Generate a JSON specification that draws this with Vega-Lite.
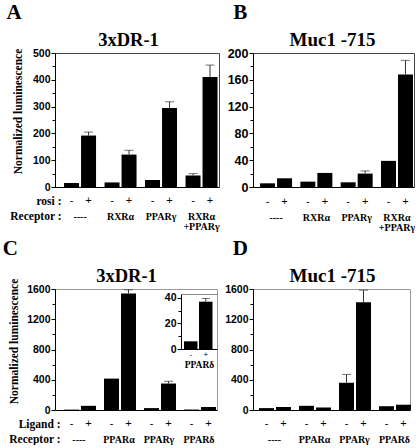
{
  "$schema": "https://vega.github.io/schema/vega-lite/v6.json",
  "padding": {"left": 2, "top": 1, "right": 0, "bottom": 0},
  "datasets": {
    "A": [
      {"group": "----", "sign": "-", "value": 15},
      {"group": "----", "sign": "+", "value": 192, "hi": 205},
      {"group": "RXRα", "sign": "-", "value": 17},
      {"group": "RXRα", "sign": "+", "value": 121, "hi": 137},
      {"group": "PPARγ", "sign": "-", "value": 26},
      {"group": "PPARγ", "sign": "+", "value": 295, "hi": 318},
      {"group": "RXRα +PPARγ", "sign": "-", "value": 43, "hi": 50},
      {"group": "RXRα +PPARγ", "sign": "+", "value": 410, "hi": 455}
    ],
    "B": [
      {"group": "----", "sign": "-", "value": 5.5},
      {"group": "----", "sign": "+", "value": 13},
      {"group": "RXRα", "sign": "-", "value": 8},
      {"group": "RXRα", "sign": "+", "value": 21},
      {"group": "PPARγ", "sign": "-", "value": 7},
      {"group": "PPARγ", "sign": "+", "value": 20, "hi": 24},
      {"group": "RXRα +PPARγ", "sign": "-", "value": 39},
      {"group": "RXRα +PPARγ", "sign": "+", "value": 168, "hi": 189}
    ],
    "C": [
      {"group": "----", "sign": "-", "value": 5},
      {"group": "----", "sign": "+", "value": 55},
      {"group": "PPARα", "sign": "-", "value": 415},
      {"group": "PPARα", "sign": "+", "value": 1540, "hi": 1590},
      {"group": "PPARγ", "sign": "-", "value": 25},
      {"group": "PPARγ", "sign": "+", "value": 350, "hi": 380},
      {"group": "PPARδ", "sign": "-", "value": 6},
      {"group": "PPARδ", "sign": "+", "value": 40}
    ],
    "D": [
      {"group": "----", "sign": "-", "value": 25},
      {"group": "----", "sign": "+", "value": 40},
      {"group": "PPARα", "sign": "-", "value": 55},
      {"group": "PPARα", "sign": "+", "value": 32},
      {"group": "PPARγ", "sign": "-", "value": 360, "hi": 470},
      {"group": "PPARγ", "sign": "+", "value": 1425, "hi": 1585},
      {"group": "PPARδ", "sign": "-", "value": 50},
      {"group": "PPARδ", "sign": "+", "value": 70}
    ],
    "inset": [
      {"group": "PPARδ", "sign": "-", "value": 6},
      {"group": "PPARδ", "sign": "+", "value": 37, "hi": 39.5}
    ]
  },
  "spacing": 5,
  "vconcat": [
    {
      "spacing": 6,
      "hconcat": [
        {
          "spacing": 0,
          "vconcat": [
            {
              "width": 164, "height": 134,
              "title": {"text": "A", "anchor": "start", "fontSize": 21, "offset": -10, "baseline": "alphabetic", "dx": -6},
              "view": {"stroke": "#444"},
              "data": {"name": "A"},
              "layer": [
                {
                  "mark": {"type": "bar", "color": "black"},
                  "encoding": {
                    "x": {"field": "group", "type": "nominal", "scale": {"domain": ["----", "RXRα", "PPARγ", "RXRα +PPARγ"], "paddingInner": 0.21, "paddingOuter": 0.13, "align": 0.86}, "axis": {"orient": "bottom", "labels": false, "ticks": false, "title": null, "maxExtent": 0, "minExtent": 0}},
                    "xOffset": {"field": "sign", "type": "nominal", "scale": {"domain": ["-", "+"], "paddingInner": 0.118, "paddingOuter": 0}},
                    "y": {"field": "value", "type": "quantitative", "scale": {"domain": [0, 500], "nice": false}, "axis": {"orient": "left", "values": [0, 100, 200, 300, 400, 500], "format": "d", "tickSize": 4, "labelPadding": 1, "labelFontSize": 10.5, "title": "Normalized luminescence", "titleFont": "Liberation Serif", "titleFontSize": 11.5, "titleFontWeight": "bold", "titleY": 58, "titlePadding": 9}}
                  }
                },
                {
                  "transform": [{"filter": "isValid(datum.hi)"}],
                  "mark": {"type": "rule", "color": "#333"},
                  "encoding": {
                    "x": {"field": "group", "type": "nominal", "axis": null},
                    "xOffset": {"field": "sign", "type": "nominal"},
                    "y": {"field": "value", "type": "quantitative", "axis": null},
                    "y2": {"field": "hi"}
                  }
                },
                {
                  "transform": [{"filter": "isValid(datum.hi)"}],
                  "mark": {"type": "tick", "color": "#333", "thickness": 1, "size": 9},
                  "encoding": {
                    "x": {"field": "group", "type": "nominal", "axis": {"orient": "top", "domain": false, "labels": false, "ticks": false, "maxExtent": 0, "minExtent": 0, "title": "3xDR-1", "titleX": 73, "titleY": -8, "titleAngle": 0, "titleAlign": "center", "titleBaseline": "alphabetic", "titleFont": "Liberation Serif", "titleFontSize": 18.5, "titleFontWeight": "bold"}},
                    "xOffset": {"field": "sign", "type": "nominal"},
                    "y": {"field": "hi", "type": "quantitative", "axis": {"orient": "left", "values": [50, 150, 250, 350, 450], "labels": false, "domain": false, "tickSize": 3, "title": null}}
                  }
                }
              ],
              "resolve": {"axis": {"x": "independent", "y": "independent"}}
            },
            {
              "width": 164, "height": 16,
              "data": {"name": "A"},
              "mark": {"type": "text", "font": "Liberation Sans", "fontSize": 11, "color": "black"},
              "encoding": {
                "x": {"field": "group", "type": "nominal", "scale": {"domain": ["----", "RXRα", "PPARγ", "RXRα +PPARγ"], "paddingInner": 0.21, "paddingOuter": 0.13, "align": 0.86}, "axis": {"domain": false, "ticks": false, "tickSize": 0, "labelAngle": 0, "labelPadding": 2, "labelFont": "Liberation Serif", "labelFontSize": 10, "labelLineHeight": 10, "labelBaseline": "top", "labelExpr": "split(datum.value, ' ')", "title": "Receptor :", "titleFont": "Liberation Serif", "titleFontSize": 11.5, "titleFontWeight": "bold", "titleAngle": 0, "titleAlign": "right", "titleBaseline": "middle", "titleX": 6, "titleY": 7}},
                "xOffset": {"field": "sign", "type": "nominal", "scale": {"domain": ["-", "+"], "paddingInner": 0.118, "paddingOuter": 0}},
                "y": {"datum": "rosi :", "type": "nominal", "axis": {"title": null, "domain": false, "ticks": false, "tickSize": 0, "labelPadding": -6, "labelFont": "Liberation Serif", "labelFontSize": 11.5, "labelFontWeight": "bold"}},
                "text": {"field": "sign"}
              }
            }
          ]
        },
        {
          "spacing": 0,
          "vconcat": [
            {
              "width": 161, "height": 134,
              "title": {"text": "B", "anchor": "start", "fontSize": 21, "offset": -10, "baseline": "alphabetic", "dx": 6},
              "view": {"stroke": "#444"},
              "data": {"name": "B"},
              "layer": [
                {
                  "mark": {"type": "bar", "color": "black"},
                  "encoding": {
                    "x": {"field": "group", "type": "nominal", "scale": {"domain": ["----", "RXRα", "PPARγ", "RXRα +PPARγ"], "paddingInner": 0.206, "paddingOuter": 0.1, "align": 0.875}, "axis": {"orient": "bottom", "labels": false, "ticks": false, "title": null, "maxExtent": 0, "minExtent": 0}},
                    "xOffset": {"field": "sign", "type": "nominal", "scale": {"domain": ["-", "+"], "paddingInner": 0.118, "paddingOuter": 0}},
                    "y": {"field": "value", "type": "quantitative", "scale": {"domain": [0, 200], "nice": false}, "axis": {"orient": "left", "values": [0, 40, 80, 120, 160, 200], "format": "d", "tickSize": 4, "labelPadding": 1, "labelFontSize": 12.5, "title": null}}
                  }
                },
                {
                  "transform": [{"filter": "isValid(datum.hi)"}],
                  "mark": {"type": "rule", "color": "#333"},
                  "encoding": {
                    "x": {"field": "group", "type": "nominal", "axis": null},
                    "xOffset": {"field": "sign", "type": "nominal"},
                    "y": {"field": "value", "type": "quantitative", "axis": null},
                    "y2": {"field": "hi"}
                  }
                },
                {
                  "transform": [{"filter": "isValid(datum.hi)"}],
                  "mark": {"type": "tick", "color": "#333", "thickness": 1, "size": 9},
                  "encoding": {
                    "x": {"field": "group", "type": "nominal", "axis": {"orient": "top", "domain": false, "labels": false, "ticks": false, "maxExtent": 0, "minExtent": 0, "title": "Muc1 -715", "titleX": 79, "titleY": -8, "titleAngle": 0, "titleAlign": "center", "titleBaseline": "alphabetic", "titleFont": "Liberation Serif", "titleFontSize": 19, "titleFontWeight": "bold"}},
                    "xOffset": {"field": "sign", "type": "nominal"},
                    "y": {"field": "hi", "type": "quantitative", "axis": {"orient": "left", "values": [20, 60, 100, 140, 180], "labels": false, "domain": false, "tickSize": 3, "title": null}}
                  }
                }
              ],
              "resolve": {"axis": {"x": "independent", "y": "independent"}}
            },
            {
              "width": 161, "height": 16,
              "data": {"name": "B"},
              "mark": {"type": "text", "font": "Liberation Sans", "fontSize": 11, "color": "black"},
              "encoding": {
                "x": {"field": "group", "type": "nominal", "scale": {"domain": ["----", "RXRα", "PPARγ", "RXRα +PPARγ"], "paddingInner": 0.206, "paddingOuter": 0.1, "align": 0.875}, "axis": {"domain": false, "ticks": false, "tickSize": 0, "labelAngle": 0, "labelPadding": 2, "labelFont": "Liberation Serif", "labelFontSize": 10, "labelLineHeight": 10, "labelBaseline": "top", "labelExpr": "split(datum.value, ' ')", "title": null}},
                "xOffset": {"field": "sign", "type": "nominal", "scale": {"domain": ["-", "+"], "paddingInner": 0.118, "paddingOuter": 0}},
                "text": {"field": "sign"}
              }
            }
          ]
        }
      ]
    },
    {
      "spacing": 6,
      "hconcat": [
        {
          "spacing": 0,
          "vconcat": [
            {
              "width": 162, "height": 121,
              "title": {"text": "C", "anchor": "start", "fontSize": 21, "offset": -10, "baseline": "alphabetic", "dx": -6},
              "view": {"stroke": "#999"},
              "layer": [
                {
                  "data": {"name": "C"},
                  "layer": [
                    {
                      "mark": {"type": "bar", "color": "black"},
                      "encoding": {
                        "x": {"field": "group", "type": "nominal", "scale": {"domain": ["----", "PPARα", "PPARγ", "PPARδ"], "paddingInner": 0.25, "paddingOuter": 0.15, "align": 0.75}, "axis": {"orient": "bottom", "labels": false, "ticks": false, "title": null, "maxExtent": 0, "minExtent": 0}},
                        "xOffset": {"field": "sign", "type": "nominal", "scale": {"domain": ["-", "+"], "paddingInner": 0.065, "paddingOuter": 0}},
                        "y": {"field": "value", "type": "quantitative", "scale": {"domain": [0, 1600], "nice": false}, "axis": {"orient": "left", "values": [0, 400, 800, 1200, 1600], "format": "d", "tickSize": 4, "labelPadding": 1, "labelFontSize": 10.5, "title": "Normalized luminescence", "titleFont": "Liberation Serif", "titleFontSize": 11.5, "titleFontWeight": "bold", "titleY": 52, "titlePadding": 7}}
                      }
                    },
                    {
                      "transform": [{"filter": "isValid(datum.hi)"}],
                      "mark": {"type": "rule", "color": "#333"},
                      "encoding": {
                        "x": {"field": "group", "type": "nominal", "axis": null},
                        "xOffset": {"field": "sign", "type": "nominal"},
                        "y": {"field": "value", "type": "quantitative", "axis": null},
                        "y2": {"field": "hi"}
                      }
                    },
                    {
                      "transform": [{"filter": "isValid(datum.hi)"}],
                      "mark": {"type": "tick", "color": "#333", "thickness": 1, "size": 9},
                      "encoding": {
                        "x": {"field": "group", "type": "nominal", "axis": {"orient": "top", "domain": false, "labels": false, "ticks": false, "maxExtent": 0, "minExtent": 0, "title": "3xDR-1", "titleX": 71, "titleY": -8, "titleAngle": 0, "titleAlign": "center", "titleBaseline": "alphabetic", "titleFont": "Liberation Serif", "titleFontSize": 18.5, "titleFontWeight": "bold"}},
                        "xOffset": {"field": "sign", "type": "nominal"},
                        "y": {"field": "hi", "type": "quantitative", "axis": {"orient": "left", "values": [200, 600, 1000, 1400], "labels": false, "domain": false, "tickSize": 3, "title": null}}
                      }
                    }
                  ],
                  "resolve": {"axis": {"x": "independent", "y": "independent"}}
                },
                {
                  "data": {"name": "inset"},
                  "layer": [
                    {
                      "mark": {"type": "bar", "color": "black"},
                      "encoding": {
                        "x": {"field": "sign", "type": "nominal", "scale": {"domain": ["-", "+"], "range": [126, 162], "paddingInner": 0.1, "paddingOuter": 0.25, "align": 0.4}, "axis": {"orient": "bottom", "offset": -61, "ticks": false, "labelAngle": 0, "labelPadding": 1, "labelFont": "Liberation Sans", "labelFontWeight": "normal", "labelFontSize": 8, "title": "PPARδ", "titleFont": "Liberation Serif", "titleFontSize": 9.5, "titleFontWeight": "bold", "titleX": 144, "titleY": 15, "titleAngle": 0, "titleAlign": "center", "titleBaseline": "middle", "maxExtent": 0, "minExtent": 0}},
                        "y": {"field": "value", "type": "quantitative", "scale": {"domain": [0, 43], "range": [60, 5], "nice": false}, "axis": {"orient": "left", "offset": -126, "values": [0, 20, 40], "tickSize": 4, "labelPadding": 1, "labelFontSize": 10.5, "title": null, "maxExtent": 0, "minExtent": 0}}
                      }
                    },
                    {
                      "transform": [{"filter": "isValid(datum.hi)"}],
                      "mark": {"type": "rule", "color": "#333"},
                      "encoding": {
                        "x": {"field": "sign", "type": "nominal", "axis": null},
                        "y": {"field": "value", "type": "quantitative", "axis": null},
                        "y2": {"field": "hi"}
                      }
                    },
                    {
                      "transform": [{"filter": "isValid(datum.hi)"}],
                      "mark": {"type": "tick", "color": "#333", "thickness": 1, "size": 8},
                      "encoding": {
                        "x": {"field": "sign", "type": "nominal", "axis": {"orient": "top", "offset": -5, "labels": false, "ticks": false, "domainColor": "#888", "title": null, "maxExtent": 0, "minExtent": 0}},
                        "y": {"field": "hi", "type": "quantitative", "axis": {"orient": "left", "offset": -126, "values": [10, 30], "labels": false, "domain": false, "tickSize": 3, "title": null, "maxExtent": 0, "minExtent": 0}}
                      }
                    }
                  ],
                  "resolve": {"axis": {"x": "independent", "y": "independent"}}
                }
              ],
              "resolve": {"scale": {"x": "independent", "y": "independent"}, "axis": {"x": "independent", "y": "independent"}}
            },
            {
              "width": 162, "height": 16,
              "data": {"name": "C"},
              "mark": {"type": "text", "font": "Liberation Sans", "fontSize": 11, "color": "black"},
              "encoding": {
                "x": {"field": "group", "type": "nominal", "scale": {"domain": ["----", "PPARα", "PPARγ", "PPARδ"], "paddingInner": 0.25, "paddingOuter": 0.15, "align": 0.75}, "axis": {"domain": false, "ticks": false, "tickSize": 0, "labelAngle": 0, "labelPadding": 2, "labelFont": "Liberation Serif", "labelFontSize": 10, "labelBaseline": "top", "title": "Receptor :", "titleFont": "Liberation Serif", "titleFontSize": 11.5, "titleFontWeight": "bold", "titleAngle": 0, "titleAlign": "right", "titleBaseline": "middle", "titleX": 5, "titleY": 7}},
                "xOffset": {"field": "sign", "type": "nominal", "scale": {"domain": ["-", "+"], "paddingInner": 0.065, "paddingOuter": 0}},
                "y": {"datum": "Ligand :", "type": "nominal", "axis": {"title": null, "domain": false, "ticks": false, "tickSize": 0, "labelPadding": -5, "labelFont": "Liberation Serif", "labelFontSize": 11.5, "labelFontWeight": "bold"}},
                "text": {"field": "sign"}
              }
            }
          ]
        },
        {
          "spacing": 0,
          "vconcat": [
            {
              "width": 157, "height": 121,
              "title": {"text": "D", "anchor": "start", "fontSize": 21, "offset": -10, "baseline": "alphabetic", "dx": 8},
              "view": {"stroke": "#999"},
              "data": {"name": "D"},
              "layer": [
                {
                  "mark": {"type": "bar", "color": "black"},
                  "encoding": {
                    "x": {"field": "group", "type": "nominal", "scale": {"domain": ["----", "PPARα", "PPARγ", "PPARδ"], "paddingInner": 0.225, "paddingOuter": 0.075, "align": 1}, "axis": {"orient": "bottom", "labels": false, "ticks": false, "title": null, "maxExtent": 0, "minExtent": 0}},
                    "xOffset": {"field": "sign", "type": "nominal", "scale": {"domain": ["-", "+"], "paddingInner": 0.176, "paddingOuter": 0}},
                    "y": {"field": "value", "type": "quantitative", "scale": {"domain": [0, 1600], "nice": false}, "axis": {"orient": "left", "values": [0, 400, 800, 1200, 1600], "format": "d", "tickSize": 4, "labelPadding": 1, "labelFontSize": 10.5, "title": null}}
                  }
                },
                {
                  "transform": [{"filter": "isValid(datum.hi)"}],
                  "mark": {"type": "rule", "color": "#333"},
                  "encoding": {
                    "x": {"field": "group", "type": "nominal", "axis": null},
                    "xOffset": {"field": "sign", "type": "nominal"},
                    "y": {"field": "value", "type": "quantitative", "axis": null},
                    "y2": {"field": "hi"}
                  }
                },
                {
                  "transform": [{"filter": "isValid(datum.hi)"}],
                  "mark": {"type": "tick", "color": "#333", "thickness": 1, "size": 9},
                  "encoding": {
                    "x": {"field": "group", "type": "nominal", "axis": {"orient": "top", "domain": false, "labels": false, "ticks": false, "maxExtent": 0, "minExtent": 0, "title": "Muc1 -715", "titleX": 79, "titleY": -8, "titleAngle": 0, "titleAlign": "center", "titleBaseline": "alphabetic", "titleFont": "Liberation Serif", "titleFontSize": 19, "titleFontWeight": "bold"}},
                    "xOffset": {"field": "sign", "type": "nominal"},
                    "y": {"field": "hi", "type": "quantitative", "axis": {"orient": "left", "values": [200, 600, 1000, 1400], "labels": false, "domain": false, "tickSize": 3, "title": null}}
                  }
                }
              ],
              "resolve": {"axis": {"x": "independent", "y": "independent"}}
            },
            {
              "width": 157, "height": 16,
              "data": {"name": "D"},
              "mark": {"type": "text", "font": "Liberation Sans", "fontSize": 11, "color": "black"},
              "encoding": {
                "x": {"field": "group", "type": "nominal", "scale": {"domain": ["----", "PPARα", "PPARγ", "PPARδ"], "paddingInner": 0.225, "paddingOuter": 0.075, "align": 1}, "axis": {"domain": false, "ticks": false, "tickSize": 0, "labelAngle": 0, "labelPadding": 2, "labelFont": "Liberation Serif", "labelFontSize": 10, "labelBaseline": "top", "title": null}},
                "xOffset": {"field": "sign", "type": "nominal", "scale": {"domain": ["-", "+"], "paddingInner": 0.176, "paddingOuter": 0}},
                "text": {"field": "sign"}
              }
            }
          ]
        }
      ]
    }
  ],
  "config": {
    "view": {"stroke": null},
    "axis": {"grid": false, "labelFont": "Liberation Sans", "labelFontWeight": "bold", "labelColor": "black", "tickColor": "black", "domainColor": "black", "titleColor": "black"},
    "title": {"font": "Liberation Serif", "fontWeight": "bold", "color": "black"}
  }
}
